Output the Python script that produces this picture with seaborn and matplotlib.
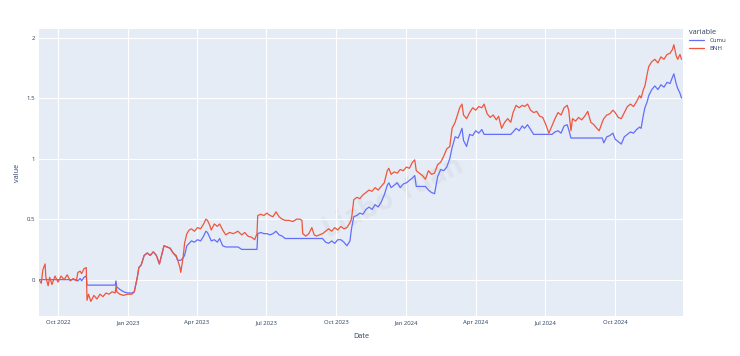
import matplotlib
matplotlib.use('Agg')
import pandas as pd
import matplotlib.pyplot as plt
import matplotlib.dates as mdates
import seaborn as sns

# Values
dates = [
    '2022-09-06', '2022-09-09', '2022-09-11', '2022-09-14', '2022-09-15', '2022-09-18', '2022-09-20',
    '2022-09-23', '2022-09-27', '2022-10-01', '2022-10-05', '2022-10-09', '2022-10-13', '2022-10-17',
    '2022-10-21', '2022-10-25', '2022-10-27', '2022-10-30', '2022-11-01', '2022-11-04', '2022-11-07',
    '2022-11-08', '2022-11-10', '2022-11-13', '2022-11-17', '2022-11-21', '2022-11-25', '2022-11-29',
    '2022-12-03', '2022-12-07', '2022-12-11', '2022-12-15', '2022-12-16', '2022-12-17', '2022-12-21',
    '2022-12-26', '2022-12-31', '2023-01-06', '2023-01-09', '2023-01-13', '2023-01-15', '2023-01-18',
    '2023-01-22', '2023-01-26', '2023-01-30', '2023-02-03', '2023-02-07', '2023-02-11', '2023-02-13',
    '2023-02-17', '2023-02-21', '2023-02-25', '2023-03-01', '2023-03-05', '2023-03-07', '2023-03-10',
    '2023-03-11', '2023-03-14', '2023-03-16', '2023-03-19', '2023-03-22', '2023-03-25', '2023-03-29',
    '2023-04-02', '2023-04-06', '2023-04-10', '2023-04-13', '2023-04-15', '2023-04-18', '2023-04-20',
    '2023-04-24', '2023-04-28', '2023-05-01', '2023-05-05', '2023-05-09', '2023-05-14', '2023-05-19',
    '2023-05-25', '2023-05-30', '2023-06-03', '2023-06-07', '2023-06-12', '2023-06-16', '2023-06-19',
    '2023-06-20', '2023-06-24', '2023-06-28', '2023-07-02', '2023-07-06', '2023-07-10', '2023-07-14',
    '2023-07-18', '2023-07-22', '2023-07-26', '2023-07-31', '2023-08-05', '2023-08-10', '2023-08-14',
    '2023-08-17', '2023-08-18', '2023-08-22', '2023-08-26', '2023-08-30', '2023-09-02', '2023-09-05',
    '2023-09-09', '2023-09-13', '2023-09-17', '2023-09-21', '2023-09-25', '2023-09-29', '2023-10-03',
    '2023-10-07', '2023-10-11', '2023-10-15', '2023-10-19', '2023-10-21', '2023-10-24', '2023-10-28',
    '2023-11-01', '2023-11-05', '2023-11-09', '2023-11-13', '2023-11-17', '2023-11-21', '2023-11-25',
    '2023-11-29', '2023-12-03', '2023-12-07', '2023-12-09', '2023-12-12', '2023-12-16', '2023-12-20',
    '2023-12-24', '2023-12-28', '2024-01-01', '2024-01-05', '2024-01-09', '2024-01-12', '2024-01-14',
    '2024-01-18', '2024-01-22', '2024-01-26', '2024-01-30', '2024-02-03', '2024-02-07', '2024-02-11',
    '2024-02-15', '2024-02-19', '2024-02-23', '2024-02-27', '2024-03-01', '2024-03-05', '2024-03-09',
    '2024-03-11', '2024-03-14', '2024-03-16', '2024-03-20', '2024-03-24', '2024-03-28', '2024-04-01',
    '2024-04-05', '2024-04-09', '2024-04-12', '2024-04-16', '2024-04-20', '2024-04-24', '2024-04-28',
    '2024-05-01', '2024-05-05', '2024-05-09', '2024-05-13', '2024-05-17', '2024-05-20', '2024-05-24',
    '2024-05-28', '2024-06-01', '2024-06-04', '2024-06-08', '2024-06-12', '2024-06-16', '2024-06-20',
    '2024-06-24', '2024-06-28', '2024-07-02', '2024-07-06', '2024-07-10', '2024-07-14', '2024-07-18',
    '2024-07-22', '2024-07-26', '2024-07-30', '2024-08-01', '2024-08-04', '2024-08-06', '2024-08-10',
    '2024-08-14', '2024-08-18', '2024-08-22', '2024-08-26', '2024-08-30', '2024-09-03', '2024-09-07',
    '2024-09-10', '2024-09-14', '2024-09-16', '2024-09-20', '2024-09-24', '2024-09-28', '2024-10-01',
    '2024-10-05', '2024-10-09', '2024-10-13', '2024-10-17', '2024-10-21', '2024-10-25', '2024-10-29',
    '2024-11-02', '2024-11-04', '2024-11-07', '2024-11-09', '2024-11-12', '2024-11-14', '2024-11-18',
    '2024-11-22', '2024-11-26', '2024-11-30', '2024-12-04', '2024-12-08', '2024-12-12', '2024-12-15',
    '2024-12-17', '2024-12-20', '2024-12-22', '2024-12-25', '2024-12-27',
]

cumu = [
    0, 0, 0, 0, 0, 0, 0,
    0, 0, 0, 0, 0, 0, 0,
    0, 0, -0.01, 0.01, -0.01, 0.02, 0.03,
    -0.045, -0.045, -0.045, -0.045, -0.045, -0.045, -0.045,
    -0.045, -0.045, -0.045, -0.045, -0.01, -0.06, -0.08,
    -0.10, -0.11, -0.11, -0.10, 0.02, 0.10, 0.12,
    0.20, 0.22, 0.20, 0.23, 0.20, 0.13, 0.18,
    0.28, 0.27, 0.26, 0.22, 0.19, 0.16, 0.16,
    0.16, 0.18, 0.20, 0.28, 0.30, 0.32, 0.31,
    0.33, 0.32, 0.36, 0.40, 0.39, 0.35, 0.32,
    0.33, 0.31, 0.34, 0.28, 0.27, 0.27, 0.27,
    0.27, 0.25, 0.25, 0.25, 0.25, 0.25, 0.25,
    0.38, 0.39, 0.38, 0.38, 0.37, 0.38, 0.40,
    0.37, 0.36, 0.34, 0.34, 0.34, 0.34, 0.34,
    0.34, 0.34, 0.34, 0.34, 0.34, 0.34, 0.34,
    0.34, 0.34, 0.31, 0.30, 0.32, 0.30, 0.33,
    0.33, 0.31, 0.28, 0.32, 0.42, 0.52, 0.53,
    0.55, 0.54, 0.58, 0.60, 0.58, 0.62, 0.60,
    0.64, 0.70, 0.78, 0.80, 0.76, 0.78, 0.80,
    0.76, 0.79, 0.80, 0.82, 0.84, 0.86, 0.77,
    0.77, 0.77, 0.77, 0.74, 0.72, 0.71, 0.85,
    0.91, 0.90, 0.93, 1.00, 1.09, 1.18, 1.17,
    1.20, 1.25, 1.15, 1.10, 1.20, 1.19, 1.23,
    1.21, 1.24, 1.20, 1.20, 1.20, 1.20, 1.20,
    1.20, 1.20, 1.20, 1.20, 1.20, 1.22, 1.25,
    1.23, 1.27, 1.25, 1.28, 1.24, 1.20, 1.20,
    1.20, 1.20, 1.20, 1.20, 1.20, 1.22, 1.23,
    1.21, 1.27, 1.28, 1.24, 1.17, 1.17, 1.17,
    1.17, 1.17, 1.17, 1.17, 1.17, 1.17, 1.17,
    1.17, 1.17, 1.13, 1.18, 1.19, 1.21, 1.16,
    1.14, 1.12, 1.18, 1.20, 1.22, 1.21, 1.24,
    1.26, 1.25, 1.36, 1.42, 1.47, 1.52, 1.57,
    1.60, 1.57, 1.61, 1.59, 1.63, 1.62, 1.67,
    1.70, 1.62, 1.58, 1.54, 1.50,
]

bnh = [
    0.00, -0.03, 0.08, 0.13, 0.02, -0.05, 0.02,
    -0.04, 0.03, -0.02, 0.03, 0.00, 0.04, -0.01,
    0.01, -0.01, 0.06, 0.07, 0.05, 0.09, 0.10,
    -0.17, -0.12, -0.18, -0.13, -0.16, -0.12, -0.14,
    -0.11, -0.12, -0.10, -0.11, -0.05, -0.10, -0.12,
    -0.13, -0.12, -0.12, -0.10, 0.02, 0.10, 0.12,
    0.20, 0.22, 0.20, 0.23, 0.20, 0.13, 0.18,
    0.28, 0.27, 0.26, 0.22, 0.20, 0.16, 0.10,
    0.06, 0.18, 0.30, 0.38, 0.41, 0.42, 0.40,
    0.43, 0.42, 0.46, 0.50, 0.49, 0.45, 0.41,
    0.46, 0.44, 0.46, 0.41, 0.37, 0.39, 0.38,
    0.40, 0.37, 0.39, 0.36, 0.35, 0.33, 0.38,
    0.53, 0.54, 0.53, 0.55, 0.53, 0.52, 0.56,
    0.52, 0.50, 0.49, 0.49, 0.48, 0.50, 0.50,
    0.49, 0.38, 0.36, 0.38, 0.43, 0.37, 0.36,
    0.37, 0.38, 0.40, 0.42, 0.40, 0.43, 0.41,
    0.44, 0.42, 0.43, 0.47, 0.50, 0.66, 0.68,
    0.67, 0.70, 0.72, 0.74, 0.73, 0.76, 0.74,
    0.77, 0.80, 0.90, 0.92, 0.87, 0.89, 0.88,
    0.91, 0.90, 0.93, 0.92, 0.97, 0.99, 0.90,
    0.88, 0.86, 0.83, 0.90, 0.87, 0.88, 0.95,
    0.97, 1.02, 1.08, 1.10, 1.25, 1.30, 1.38,
    1.42, 1.45, 1.36, 1.33, 1.38, 1.42, 1.40,
    1.43, 1.42, 1.45, 1.37, 1.34, 1.36, 1.32,
    1.35, 1.25, 1.30, 1.33, 1.30, 1.38, 1.44,
    1.42, 1.44, 1.43, 1.45, 1.40, 1.38, 1.39,
    1.35, 1.34, 1.28, 1.21, 1.27, 1.33, 1.38,
    1.36, 1.42, 1.44, 1.40, 1.23, 1.33, 1.31,
    1.34, 1.32, 1.35, 1.39, 1.30, 1.28, 1.25,
    1.23, 1.30, 1.33, 1.36, 1.37, 1.40, 1.38,
    1.34, 1.33, 1.38, 1.43, 1.45, 1.43, 1.47,
    1.52, 1.50, 1.57, 1.60, 1.70, 1.76, 1.80,
    1.82, 1.79, 1.84, 1.82, 1.86, 1.87, 1.90,
    1.94, 1.85, 1.82, 1.86, 1.82,
]

series_names = ['Cumu', 'BNH']
series_colors = ['#636efa', '#EF553B']
y_ticks = [0, 0.5, 1, 1.5, 2]
y_tick_labels = ['0', '0.5', '1', '1.5', '2']

df = pd.DataFrame({'Date': pd.to_datetime(dates), 'Cumu': cumu, 'BNH': bnh})
long_df = df.melt(id_vars='Date', value_vars=series_names, var_name='variable', value_name='value')

sns.set_theme(style='darkgrid', rc={'axes.facecolor': '#E5ECF6', 'grid.color': 'white',
                                    'grid.linewidth': 0.8})
plt.rcParams['font.family'] = ['Open Sans', 'DejaVu Sans']
text_color = '#2a3f5f'

fig = plt.figure(figsize=(7.4, 3.56), dpi=100)
ax = fig.add_axes([0.0527, 0.1124, 0.8703, 0.806])

# faint watermark behind the lines
ax.text(0.531, 0.444, 'Liabo Yuan', transform=fig.transFigure, rotation=26,
        fontsize=20, fontweight='bold', color='#9aa3ad', alpha=0.12,
        ha='center', va='center', zorder=0.5)

sns.lineplot(data=long_df, x='Date', y='value', hue='variable', hue_order=series_names,
             palette=series_colors, linewidth=0.9, ax=ax)

ax.set_xlim(pd.Timestamp('2022-09-06'), pd.Timestamp('2024-12-29'))
ax.set_ylim(-0.30, 2.07)
ax.set_yticks(y_ticks)
ax.set_yticklabels(y_tick_labels)
ax.xaxis.set_major_locator(mdates.MonthLocator(bymonth=[1, 4, 7, 10]))
ax.xaxis.set_major_formatter(mdates.DateFormatter('%b %Y'))
ax.tick_params(axis='both', length=0, labelsize=4.3, colors=text_color, pad=3)
for s in ax.spines.values():
    s.set_visible(False)

ax.set_xlabel('Date', fontsize=5.2, color=text_color, labelpad=6)
ax.set_ylabel('value', fontsize=5.2, color=text_color, labelpad=4)

handles, labels = ax.get_legend_handles_labels()
ax.legend(handles, labels, title='variable', loc='upper left',
          bbox_to_anchor=(0.931, 0.918), bbox_transform=fig.transFigure,
          frameon=False, fontsize=4.3, title_fontsize=5.2, handlelength=2.6,
          borderpad=0, borderaxespad=0, labelspacing=0.35, alignment='left',
          labelcolor=text_color)
ax.get_legend().get_title().set_color(text_color)

fig.savefig('out.png', dpi=100)
